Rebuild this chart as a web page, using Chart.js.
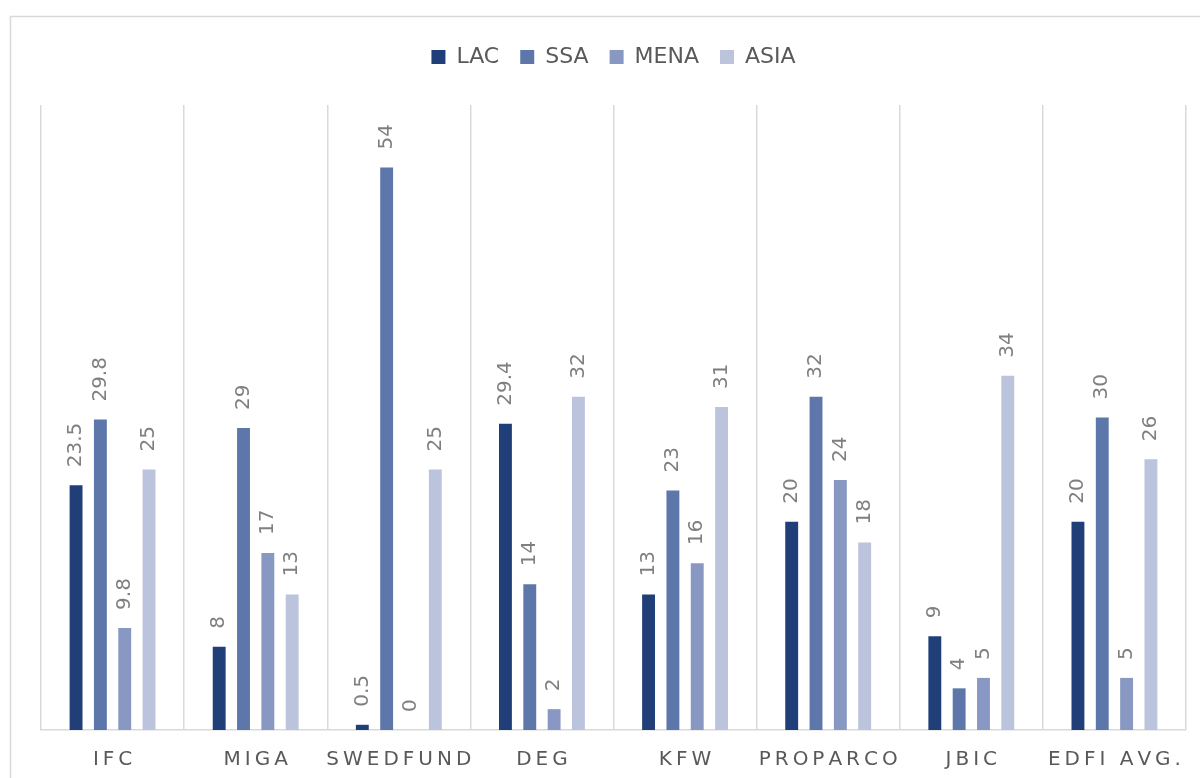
<!DOCTYPE html>
<html>
<head>
<meta charset="utf-8">
<script src="https://cdn.jsdelivr.net/npm/chart.js@4.4.1/dist/chart.umd.min.js"></script>
<style>
  body { margin: 0; background: #fff; }
  #wrap { width: 1200px; height: 778px; }
</style>
</head>
<body>
<div id="wrap"><canvas id="myChart" width="1200" height="778"></canvas></div>
<script>
const categories = ['IFC', 'MIGA', 'SWEDFUND', 'DEG', 'KFW', 'PROPARCO', 'JBIC', 'EDFI AVG.'];
const lac  = [23.5, 8, 0.5, 29.4, 13, 20, 9, 20];
const ssa  = [29.8, 29, 54, 14, 23, 32, 4, 30];
const mena = [9.8, 17, 0, 2, 16, 24, 5, 5];
const asia = [25, 13, 25, 32, 31, 18, 34, 26];

const seriesNames = ['LAC', 'SSA', 'MENA', 'ASIA'];
const seriesColors = ['#203f79', '#5e77aa', '#8898c3', '#bbc3dd'];

Chart.defaults.font.family = "'DejaVu Sans', Verdana, sans-serif";

// spread letters like the excel axis labels
const spaced = (s) => s.split('').join('\u2009');

const frame = {
    id: 'frame',
    beforeDraw(chart) {
        const c = chart.ctx;
        c.save();
        c.strokeStyle = '#d9d9d9';
        c.lineWidth = 1.5;
        c.strokeRect(10.5, 16.5, 1250, 850);
        c.restore();
    }
};

// more room under the legend
const legendGap = {
    id: 'legendGap',
    beforeInit(chart) {
        const fit = chart.legend.fit;
        chart.legend.fit = function() {
            fit.bind(chart.legend)();
            this.height += 27;
        };
    }
};

const barLabels = {
    id: 'barLabels',
    afterDatasetsDraw(chart) {
        const c = chart.ctx;
        c.save();
        c.font = "20px 'DejaVu Sans'";
        c.fillStyle = '#7f7f7f';
        c.textAlign = 'left';
        c.textBaseline = 'middle';
        chart.data.datasets.forEach((ds, i) => {
            chart.getDatasetMeta(i).data.forEach((bar, j) => {
                c.save();
                c.translate(bar.x, bar.y - 18);
                c.rotate(-Math.PI / 2);
                c.fillText(String(ds.data[j]), 0, 0);
                c.restore();
            });
        });
        c.restore();
    }
};

const ctx = document.getElementById('myChart').getContext('2d');
const myChart = new Chart(ctx, {
    type: 'bar',
    data: {
        labels: categories,
        datasets: [lac, ssa, mena, asia].map((d, i) => ({
            label: seriesNames[i],
            data: d,
            backgroundColor: seriesColors[i],
            borderWidth: 0,
            categoryPercentage: 0.68,
            barPercentage: 0.53
        }))
    },
    options: {
        responsive: false,
        animation: false,
        layout: {
            padding: { left: 41, right: 14, top: 25, bottom: -12 }
        },
        scales: {
            x: {
                grid: {
                    color: '#d9d9d9',
                    lineWidth: 1.5,
                    drawTicks: false,
                    offset: true
                },
                border: { color: '#d9d9d9', width: 1.5 },
                ticks: {
                    color: '#595959',
                    font: { size: 20 },
                    padding: 18,
                    maxRotation: 0,
                    autoSkip: false,
                    callback: function(value) {
                        return spaced(this.getLabelForValue(value));
                    }
                }
            },
            y: {
                display: false,
                min: 0,
                max: 60
            }
        },
        plugins: {
            legend: {
                position: 'top',
                labels: {
                    color: '#595959',
                    font: { size: 22 },
                    boxWidth: 14,
                    boxHeight: 14,
                    padding: 21
                }
            },
            tooltip: { enabled: false }
        }
    },
    plugins: [frame, legendGap, barLabels]
});
</script>
</body>
</html>
